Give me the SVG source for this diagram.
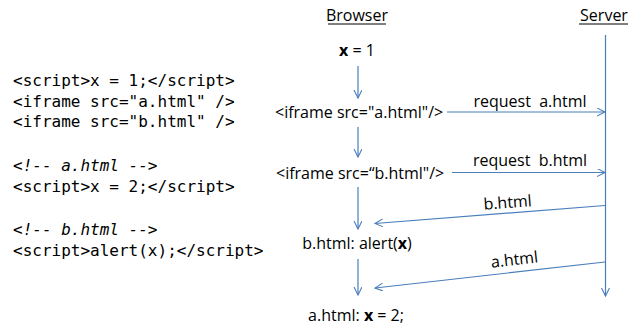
<svg xmlns="http://www.w3.org/2000/svg" width="631" height="326" viewBox="0 0 631 326">
<style>
.code{font-family:"DejaVu Sans Mono","Liberation Mono",monospace;font-size:16px;fill:#000}
.cmt{font-style:italic}
.t{font-family:"Open Sans","Liberation Sans",sans-serif;font-size:16px;fill:#000;white-space:pre}
.c{text-anchor:middle}
.ln{stroke:#4a7ebb;stroke-width:1.2;fill:none}
</style>
<defs>
<marker id="ah" markerWidth="10" markerHeight="10" refX="8" refY="4" orient="auto" markerUnits="userSpaceOnUse">
<path d="M0,0 L8,4 L0,8" fill="none" stroke="#4a7ebb" stroke-width="1.1"/>
</marker>
</defs>
<g id="code">
<text class="code" x="13" y="86">&lt;script&gt;x = 1;&lt;/script&gt;</text>
<text class="code" x="13" y="107">&lt;iframe src="a.html" /&gt;</text>
<text class="code" x="13" y="127">&lt;iframe src="b.html" /&gt;</text>
<text class="code cmt" x="13" y="171">&lt;!-- a.html --&gt;</text>
<text class="code" x="13" y="192">&lt;script&gt;x = 2;&lt;/script&gt;</text>
<text class="code cmt" x="13" y="235">&lt;!-- b.html --&gt;</text>
<text class="code" x="13" y="256">&lt;script&gt;alert(x);&lt;/script&gt;</text>
</g>
<g id="browser-title"><text class="t c" x="357" y="21">Browser</text><line x1="328" y1="24" x2="386" y2="24" stroke="#000" stroke-width="1"/></g>
<g id="server-title"><text class="t c" x="604" y="21">Server</text><line x1="579" y1="24" x2="628" y2="24" stroke="#000" stroke-width="1"/></g>
<g id="x1"><text class="t c" x="357" y="56"><tspan font-weight="bold">x</tspan> = 1</text></g>
<g id="iframe-a"><text class="t" x="275" y="118">&lt;iframe src="a.html"/&gt;</text></g>
<g id="iframe-b"><text class="t" x="276" y="179">&lt;iframe src=“b.html"/&gt;</text></g>
<g id="alert"><text class="t c" x="357" y="249">b.html: alert(<tspan font-weight="bold">x</tspan>)</text></g>
<g id="a2"><text class="t c" x="356" y="321">a.html: <tspan font-weight="bold">x</tspan> = 2;</text></g>
<g id="connectors">
<line class="ln" x1="605.5" y1="35" x2="605.5" y2="296" marker-end="url(#ah)"/>
<line class="ln" x1="358" y1="66" x2="358" y2="98" marker-end="url(#ah)"/>
<line class="ln" x1="358" y1="127" x2="358" y2="157" marker-end="url(#ah)"/>
<line class="ln" x1="358" y1="187" x2="358" y2="229" marker-end="url(#ah)"/>
<line class="ln" x1="358" y1="259" x2="358" y2="295" marker-end="url(#ah)"/>
<line class="ln" x1="447" y1="112" x2="605" y2="112" marker-end="url(#ah)"/>
<line class="ln" x1="452" y1="172.5" x2="605" y2="172.5" marker-end="url(#ah)"/>
<line class="ln" x1="605" y1="205.5" x2="375" y2="223.5" marker-end="url(#ah)"/>
<line class="ln" x1="605" y1="262" x2="375" y2="288" marker-end="url(#ah)"/>
<text class="t c" x="530" y="107">request  a.html</text>
<text class="t c" x="530" y="166">request  b.html</text>
<text class="t c" transform="translate(508,208) rotate(-4.4)">b.html</text>
<text class="t c" transform="translate(515,265) rotate(-6.4)">a.html</text>
</g>
</svg>
